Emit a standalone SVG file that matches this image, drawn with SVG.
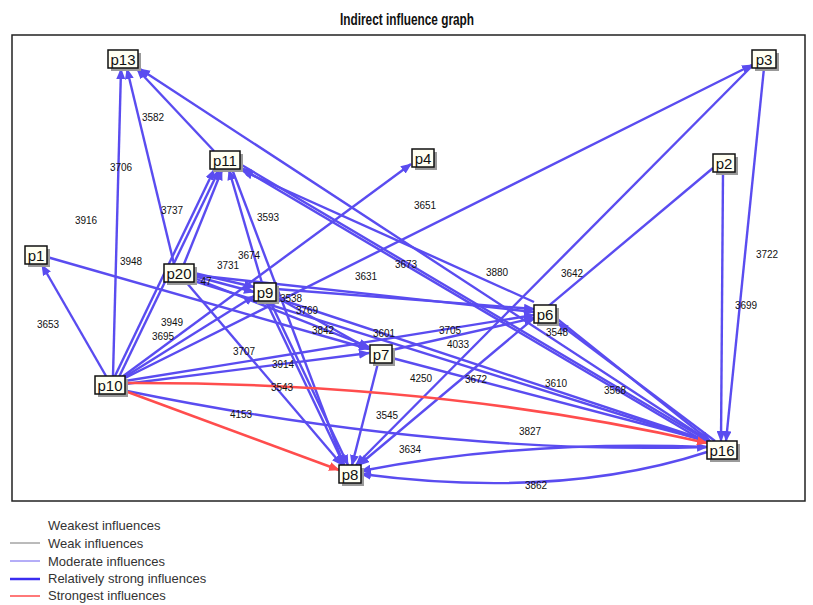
<svg xmlns="http://www.w3.org/2000/svg" width="813" height="605" viewBox="0 0 813 605">
<defs>
<marker id="ab" markerUnits="userSpaceOnUse" markerWidth="11" markerHeight="9" refX="10" refY="4.5" orient="auto"><path d="M0,0 L11,4.5 L0,9 z" fill="#5a4cf0"/></marker>
<marker id="ar" markerUnits="userSpaceOnUse" markerWidth="11" markerHeight="9" refX="10" refY="4.5" orient="auto"><path d="M0,0 L11,4.5 L0,9 z" fill="#ff4d4d"/></marker>
<style>
.e{fill:none;stroke:#5a4cf0;stroke-width:2.4;marker-end:url(#ab)}
.r{fill:none;stroke:#ff4d4d;stroke-width:2.6;marker-end:url(#ar)}
.lb{font-family:"Liberation Sans",Arial,sans-serif;font-size:10px;fill:#111;text-anchor:middle}
.nb{fill:#fffff2;stroke:#111;stroke-width:1.5}
.sh{fill:#9a9a9a}
.nt{font-family:"Liberation Sans",Arial,sans-serif;font-size:15px;fill:#111;text-anchor:middle}
.lg{font-family:"Liberation Sans",Arial,sans-serif;font-size:13px;fill:#333}
</style>
</defs>
<rect width="813" height="605" fill="#ffffff"/>
<text x="407" y="25" font-family="Liberation Sans,Arial,sans-serif" font-size="16" font-weight="bold" text-anchor="middle" fill="#111" textLength="134" lengthAdjust="spacingAndGlyphs">Indirect influence graph</text>
<rect x="12" y="35" width="793" height="466" fill="none" stroke="#222" stroke-width="1.5"/>
<g id="connectors">
<path class="e" d="M113,376 L121,69"/>
<path class="e" d="M174,264 L127,69"/>
<path class="e" d="M214,151 L137,69"/>
<path class="e" d="M709,441 L140,69"/>
<path class="e" d="M106,376 L42,265"/>
<path class="e" d="M115,376 L214,170"/>
<path class="e" d="M119,377 L219,170"/>
<path class="e" d="M184,264 L222,170"/>
<path class="e" d="M262,283 L229,170"/>
<path class="e" d="M232,169 L344,465"/>
<path class="e" d="M707,443 L241,168"/>
<path class="e" d="M534,302 L243,171"/>
<path class="e" d="M122,377 L411,164"/>
<path class="e" d="M125,378 L752,65"/>
<path class="e" d="M123,378 L254,296"/>
<path class="e" d="M125,381 L534,315"/>
<path class="e" d="M125,384 L369,353"/>
<path class="e" d="M127,391 Q440,455 707,447"/>
<path class="e" d="M47,257 L369,349"/>
<path class="e" d="M194,273 L254,287"/>
<path class="e" d="M194,276 L254,292"/>
<path class="e" d="M194,275 L534,312"/>
<path class="e" d="M194,278 L369,347"/>
<path class="e" d="M194,281 L708,442"/>
<path class="e" d="M186,282 L342,465"/>
<path class="e" d="M276,289 L534,309"/>
<path class="e" d="M276,297 L369,349"/>
<path class="e" d="M276,298 L708,441"/>
<path class="e" d="M266,301 L344,465"/>
<path class="e" d="M270,301 L348,465"/>
<path class="e" d="M378,363 L352,465"/>
<path class="e" d="M392,358 L708,441"/>
<path class="e" d="M392,350 L534,318"/>
<path class="e" d="M556,318 L710,441"/>
<path class="e" d="M715,441 L558,323"/>
<path class="e" d="M764,68 L726,441"/>
<path class="e" d="M723,172 L721,441"/>
<path class="e" d="M752,66 L356,465"/>
<path class="e" d="M713,168 L359,465"/>
<path class="e" d="M707,447 Q520,440 361,471"/>
<path class="e" d="M707,452 Q560,500 361,474"/>
<path class="e" d="M240,164 L708,441"/>
<path class="r" d="M127,383 Q439,382 707,443"/>
<path class="r" d="M125,391 L339,470"/>
</g>
<g id="labels">
<text class="lb" x="121" y="171">3706</text>
<text class="lb" x="153" y="121">3582</text>
<text class="lb" x="172" y="214">3737</text>
<text class="lb" x="86" y="224">3916</text>
<text class="lb" x="131" y="265">3948</text>
<text class="lb" x="48" y="328">3653</text>
<text class="lb" x="268" y="221">3593</text>
<text class="lb" x="249" y="259">3674</text>
<text class="lb" x="228" y="269">3731</text>
<text class="lb" x="206" y="285">47</text>
<text class="lb" x="172" y="326">3949</text>
<text class="lb" x="163" y="340">3695</text>
<text class="lb" x="244" y="355">3707</text>
<text class="lb" x="283" y="368">3914</text>
<text class="lb" x="282" y="391">3543</text>
<text class="lb" x="241" y="418">4153</text>
<text class="lb" x="291" y="302">3538</text>
<text class="lb" x="307" y="314">3769</text>
<text class="lb" x="323" y="334">3842</text>
<text class="lb" x="384" y="337">3601</text>
<text class="lb" x="450" y="334">3705</text>
<text class="lb" x="458" y="348">4033</text>
<text class="lb" x="366" y="280">3631</text>
<text class="lb" x="406" y="268">3673</text>
<text class="lb" x="425" y="209">3651</text>
<text class="lb" x="497" y="276">3880</text>
<text class="lb" x="572" y="277">3642</text>
<text class="lb" x="557" y="336">3548</text>
<text class="lb" x="421" y="382">4250</text>
<text class="lb" x="476" y="383">3672</text>
<text class="lb" x="556" y="387">3610</text>
<text class="lb" x="615" y="394">3568</text>
<text class="lb" x="387" y="419">3545</text>
<text class="lb" x="410" y="453">3634</text>
<text class="lb" x="530" y="435">3827</text>
<text class="lb" x="536" y="489">3862</text>
<text class="lb" x="767" y="258">3722</text>
<text class="lb" x="746" y="309">3699</text>
</g>
<g id="p13"><rect class="sh" x="111" y="53" width="30" height="18"/><rect class="nb" x="108" y="50" width="30" height="18"/><text class="nt" x="123" y="65">p13</text></g>
<g id="p3"><rect class="sh" x="755" y="53" width="24" height="18"/><rect class="nb" x="752" y="50" width="24" height="18"/><text class="nt" x="764" y="65">p3</text></g>
<g id="p11"><rect class="sh" x="213" y="154" width="30" height="18"/><rect class="nb" x="210" y="151" width="30" height="18"/><text class="nt" x="225" y="166">p11</text></g>
<g id="p4"><rect class="sh" x="415" y="152" width="22" height="18"/><rect class="nb" x="412" y="149" width="22" height="18"/><text class="nt" x="423" y="164">p4</text></g>
<g id="p2"><rect class="sh" x="716" y="157" width="22" height="18"/><rect class="nb" x="713" y="154" width="22" height="18"/><text class="nt" x="724" y="169">p2</text></g>
<g id="p1"><rect class="sh" x="28" y="249" width="22" height="18"/><rect class="nb" x="25" y="246" width="22" height="18"/><text class="nt" x="36" y="261">p1</text></g>
<g id="p20"><rect class="sh" x="167" y="267" width="30" height="18"/><rect class="nb" x="164" y="264" width="30" height="18"/><text class="nt" x="179" y="279">p20</text></g>
<g id="p9"><rect class="sh" x="257" y="286" width="22" height="18"/><rect class="nb" x="254" y="283" width="22" height="18"/><text class="nt" x="265" y="298">p9</text></g>
<g id="p6"><rect class="sh" x="537" y="308" width="22" height="18"/><rect class="nb" x="534" y="305" width="22" height="18"/><text class="nt" x="545" y="320">p6</text></g>
<g id="p7"><rect class="sh" x="373" y="348" width="22" height="18"/><rect class="nb" x="370" y="345" width="22" height="18"/><text class="nt" x="381" y="360">p7</text></g>
<g id="p10"><rect class="sh" x="98" y="379" width="30" height="18"/><rect class="nb" x="95" y="376" width="30" height="18"/><text class="nt" x="110" y="391">p10</text></g>
<g id="p16"><rect class="sh" x="710" y="444" width="30" height="18"/><rect class="nb" x="707" y="441" width="30" height="18"/><text class="nt" x="722" y="456">p16</text></g>
<g id="p8"><rect class="sh" x="342" y="468" width="22" height="18"/><rect class="nb" x="339" y="465" width="22" height="18"/><text class="nt" x="350" y="480">p8</text></g>
<g id="legend">
<text class="lg" x="48" y="530">Weakest influences</text>
<line x1="10" y1="543" x2="40" y2="543" stroke="#777" stroke-width="1"/>
<text class="lg" x="48" y="548">Weak influences</text>
<line x1="10" y1="561" x2="40" y2="561" stroke="#6a5cf0" stroke-width="1"/>
<text class="lg" x="48" y="566">Moderate influences</text>
<line x1="10" y1="579" x2="40" y2="579" stroke="#3a2cf0" stroke-width="2.5"/>
<text class="lg" x="48" y="583">Relatively strong influences</text>
<line x1="10" y1="596" x2="40" y2="596" stroke="#ff4d4d" stroke-width="1.5"/>
<text class="lg" x="48" y="600">Strongest influences</text>
</g>
</svg>
